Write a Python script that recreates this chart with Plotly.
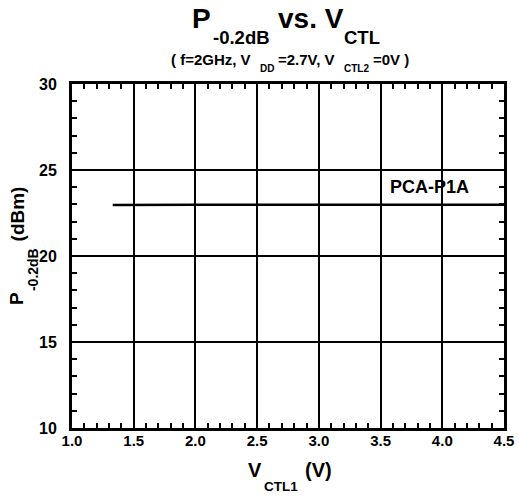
import plotly.graph_objects as go

vctl1 = [1.33, 1.5, 2.0, 2.5, 3.0, 3.5, 4.0, 4.5]
p_02db = [22.97, 22.98, 22.98, 22.98, 22.98, 22.98, 22.98, 22.98]
series_name = "PCA-P1A"
x_ticks = [1.0, 1.5, 2.0, 2.5, 3.0, 3.5, 4.0, 4.5]
x_labels = ["1.0", "1.5", "2.0", "2.5", "3.0", "3.5", "4.0", "4.5"]
y_ticks = [10, 15, 20, 25, 30]

FONT = "Liberation Sans, Arial, sans-serif"
W, H = 519, 498
ML, MR, MT, MB = 72, 15, 84, 70
PW, PH = W - ML - MR, H - MT - MB

# Arial Bold advance widths (per 1000 em)
CW = {' ': 278, '(': 333, ')': 333, 'f': 333, '=': 584, '2': 556, 'G': 778, 'H': 722,
      'z': 500, ',': 278, 'V': 667, 'D': 722, '.': 278, '7': 556, 'C': 722, 'T': 611,
      'L': 611, '0': 556, 'P': 667, '-': 333, 'd': 611, 'B': 722, 'v': 556, 's': 556,
      '1': 556, 'm': 889, 'A': 722}


def tw(t, s):
    return sum(CW.get(c, 556) for c in t) * s / 1000.0


def px_x(px):
    return (px - ML) / PW


def px_y(py):
    return (H - MB - py) / PH


fig = go.Figure()
fig.add_trace(go.Scatter(x=vctl1, y=p_02db, mode="lines",
                         line=dict(color="black", width=2.5), name=series_name,
                         showlegend=False))

axis_common = dict(
    showline=True, linecolor="black", linewidth=3, mirror="allticks",
    showgrid=True, gridcolor="black", gridwidth=2,
    ticks="inside", ticklen=0, tickcolor="black", tickwidth=2,
    zeroline=False, automargin=False,
    tickfont=dict(family=FONT, size=15, color="black", weight="bold"),
)

fig.update_xaxes(range=[1.0, 4.5], tickvals=x_ticks, ticktext=x_labels,
                 minor=dict(ticks="inside", ticklen=5, dtick=0.1, tick0=1.0,
                            tickcolor="black", tickwidth=2, showgrid=False),
                 ticklabelstandoff=-3, **axis_common)
fig.update_yaxes(range=[10, 30], tickvals=y_ticks,
                 minor=dict(ticks="inside", ticklen=5, dtick=1, tick0=10,
                            tickcolor="black", tickwidth=2, showgrid=False),
                 ticklabelstandoff=9, **axis_common)
fig.update_yaxes(tickfont=dict(size=16))

fig.add_annotation(x=3.90, y=24.0, text="<b>" + series_name + "</b>", showarrow=False,
                   font=dict(family=FONT, size=18, color="black"))


def runs_h(runs, cx, base):
    """runs: (text, size, baseline offset, gap before)"""
    total = sum(tw(t, s) + g for t, s, d, g in runs)
    x = cx - total / 2
    for t, s, d, g in runs:
        x += g
        w = tw(t, s)
        fig.add_annotation(xref="paper", yref="paper", x=px_x(x + w / 2),
                           y=px_y(base + d - 0.36 * s), text="<b>" + t + "</b>",
                           showarrow=False, xanchor="center", yanchor="middle",
                           borderpad=0, font=dict(family=FONT, size=s, color="black"))
        x += w


def runs_v(runs, cy, base):
    total = sum(tw(t, s) + g for t, s, d, g in runs)
    y = cy + total / 2
    for t, s, d, g in runs:
        y -= g
        w = tw(t, s)
        fig.add_annotation(xref="paper", yref="paper", x=px_x(base + d - 0.36 * s),
                           y=px_y(y - w / 2), text="<b>" + t + "</b>", textangle=-90,
                           showarrow=False, xanchor="center", yanchor="middle",
                           borderpad=0, font=dict(family=FONT, size=s, color="black"))
        y -= w


runs_h([("P", 28, 0, 0), ("-0.2dB", 18.5, 15, 3), ("vs. V", 28, 0, 8), ("CTL", 18.5, 15, 1)],
       cx=286, base=29)
runs_h([("( f=2GHz, V", 15, 0, 0), ("DD", 10, 7, 9), ("=2.7V, V", 15, 0, 3),
        ("CTL2", 10, 7, 9), ("=0V )", 15, 0, 3)], cx=290, base=65)
runs_h([("V", 20, 0, 0), ("CTL1", 13.5, 14, 2), ("(V)", 20, 0, 7)], cx=290, base=477)
runs_v([("P", 19, 0, 0), ("-0.2dB", 14, 14, 2), ("(dBm)", 19, 0, 6)], cy=246, base=24)

fig.update_layout(width=W, height=H,
                  margin=dict(l=ML, r=MR, t=MT, b=MB),
                  plot_bgcolor="white", paper_bgcolor="white",
                  font=dict(family=FONT, color="black"))

fig.write_html("out.html", config={"displayModeBar": False},
               post_script="document.body.style.margin='0';"
                           "document.body.style.overflow='hidden';")
